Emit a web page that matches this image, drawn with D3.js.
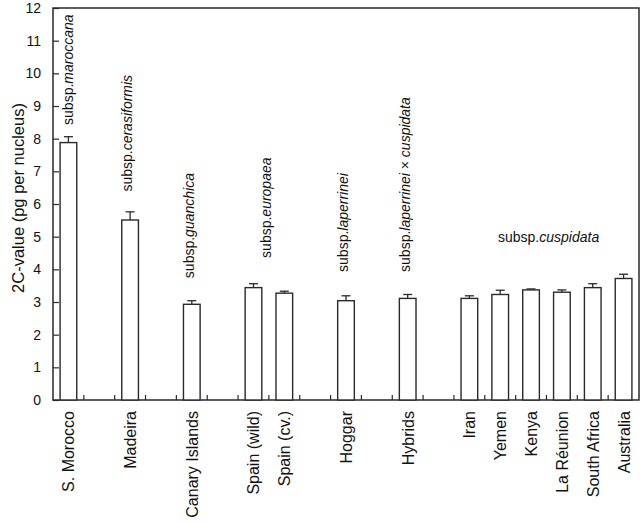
<!DOCTYPE html>
<html>
<head>
<meta charset="utf-8">
<script src="https://cdn.jsdelivr.net/npm/d3@7"></script>
<style>
  html, body { margin: 0; padding: 0; background: #fff; }
  svg { display: block; font-family: "Liberation Sans", Arial, Helvetica, sans-serif; }
</style>
</head>
<body>
<svg id="chart" width="640" height="523"></svg>
<script>
// ---- data ----
const slots = ["S. Morocco", "_g1", "Madeira", "_g2", "Canary Islands", "_g3",
  "Spain (wild)", "Spain (cv.)", "_g4", "Hoggar", "_g5", "Hybrids", "_g6",
  "Iran", "Yemen", "Kenya", "La Réunion", "South Africa", "Australia"];
const categories = ["S. Morocco", "Madeira", "Canary Islands", "Spain (wild)", "Spain (cv.)",
  "Hoggar", "Hybrids", "Iran", "Yemen", "Kenya", "La Réunion", "South Africa", "Australia"];
const values = [7.88, 5.51, 2.93, 3.44, 3.27, 3.04, 3.11, 3.11, 3.23, 3.37, 3.30, 3.44, 3.72];
const errors = [0.18, 0.25, 0.11, 0.12, 0.06, 0.15, 0.12, 0.08, 0.13, 0.03, 0.07, 0.12, 0.13];
const yTicks = [0, 1, 2, 3, 4, 5, 6, 7, 8, 9, 10, 11, 12];
const yLabel = "2C-value (pg per nucleus)";
// subspecies annotations: prefix, italic name, extra italic, categories spanned
const annPrefix = "subsp.";
const annNames = ["maroccana", "cerasiformis", "guanchica", "europaea", "laperrinei", "laperrinei", "cuspidata"];
const annSuffix = ["", "", "", "", "", "cuspidata", ""];
const annFrom = ["S. Morocco", "Madeira", "Canary Islands", "Spain (wild)", "Hoggar", "Hybrids", "Iran"];
const annTo = ["S. Morocco", "Madeira", "Canary Islands", "Spain (cv.)", "Hoggar", "Hybrids", "Australia"];
const annStartValue = [8.42, 6.38, 3.73, 4.35, 3.92, 3.92, 4.84];

// ---- layout ----
const svg = d3.select("#chart");
const L = 53, R = 639, T = 8, B = 400;
const stroke = "#2a2a2a";

const x = d3.scaleBand().domain(slots).range([L, R]).paddingInner(0.46).paddingOuter(0.23);
const y = d3.scaleLinear().domain([0, 12]).range([B, T]);
const step = x.step();

// y-axis label
svg.append("text")
  .attr("transform", `translate(24,${(T + B) / 2 - 6}) rotate(-90)`)
  .attr("text-anchor", "middle")
  .attr("font-size", 16.5)
  .attr("fill", "#111")
  .text(yLabel);

// y axis (ticks inward)
const yAxis = d3.axisRight(y).tickValues(yTicks).tickSize(6).tickFormat("");
const gy = svg.append("g").attr("transform", `translate(${L},0)`).call(yAxis);
gy.select(".domain").remove();
gy.selectAll(".tick line").attr("stroke", stroke).attr("stroke-width", 1.2);
svg.append("g").selectAll("text").data(yTicks).join("text")
  .attr("x", 41).attr("y", d => y(d)).attr("dy", "0.35em")
  .attr("text-anchor", "end").attr("font-size", 14).attr("fill", "#111")
  .text(d => d);

// x boundary ticks (inward, upward)
const boundaries = d3.range(1, slots.length);
svg.append("g").selectAll("line").data(boundaries).join("line")
  .attr("x1", i => x(slots[i]) - x.paddingInner() * step / 2)
  .attr("x2", i => x(slots[i]) - x.paddingInner() * step / 2)
  .attr("y1", B).attr("y2", B - 5)
  .attr("stroke", stroke).attr("stroke-width", 1.2);

// frame
svg.append("path")
  .attr("d", `M${L},${T}H${R}V${B}H${L}Z`)
  .attr("fill", "none").attr("stroke", stroke).attr("stroke-width", 1.5);

// bars
const data = categories.map((c, i) => ({ c, v: values[i], e: errors[i] }));
const bw = x.bandwidth();
svg.append("g").selectAll("rect").data(data).join("rect")
  .attr("x", d => x(d.c)).attr("width", bw)
  .attr("y", d => y(d.v)).attr("height", d => y(0) - y(d.v))
  .attr("fill", "#fff").attr("stroke", stroke).attr("stroke-width", 1.4);

// error bars (upward only)
const eg = svg.append("g").attr("stroke", stroke).attr("stroke-width", 1.3);
eg.selectAll("line.v").data(data).join("line").attr("class", "v")
  .attr("x1", d => x(d.c) + bw / 2).attr("x2", d => x(d.c) + bw / 2)
  .attr("y1", d => y(d.v)).attr("y2", d => y(d.v + d.e));
eg.selectAll("line.c").data(data).join("line").attr("class", "c")
  .attr("x1", d => x(d.c) + bw / 2 - 4.5).attr("x2", d => x(d.c) + bw / 2 + 4.5)
  .attr("y1", d => y(d.v + d.e)).attr("y2", d => y(d.v + d.e));

// x labels
svg.append("g").selectAll("text").data(categories).join("text")
  .attr("transform", d => `translate(${x(d) + bw / 2 + 6},${B + 11}) rotate(-90)`)
  .attr("text-anchor", "end").attr("font-size", 16).attr("fill", "#111")
  .text(d => d);

// annotations
annNames.forEach((nm, i) => {
  const cx = (x(annFrom[i]) + x(annTo[i]) + bw) / 2;
  let t;
  if (i === annNames.length - 1) {
    t = svg.append("text")
      .attr("x", 498).attr("y", y(annStartValue[i]))
      .attr("font-size", 14).attr("fill", "#111");
  } else {
    t = svg.append("text")
      .attr("transform", `translate(${cx + (i === 0 ? 4.5 : 2)},${y(annStartValue[i])}) rotate(-90)`)
      .attr("font-size", 14).attr("fill", "#111");
  }
  t.append("tspan").text(annPrefix);
  t.append("tspan").attr("font-style", "italic").text(nm);
  if (annSuffix[i]) {
    t.append("tspan").text(" × ");
    t.append("tspan").attr("font-style", "italic").text(annSuffix[i]);
  }
});
</script>
</body>
</html>
